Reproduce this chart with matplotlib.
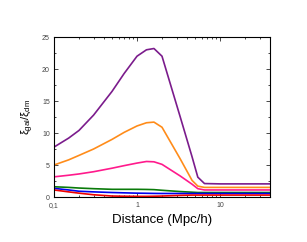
import matplotlib
matplotlib.use("Agg")
import matplotlib.pyplot as plt
from matplotlib.ticker import FixedLocator, LogLocator, NullFormatter, MultipleLocator

plt.rcParams['font.family'] = ['Liberation Sans', 'DejaVu Sans']
plt.rcParams['mathtext.fontset'] = 'custom'
plt.rcParams['mathtext.rm'] = 'Liberation Sans'
plt.rcParams['mathtext.it'] = 'Liberation Sans'

# Distance (Mpc/h) and ratio curves
dist = [0.1, 0.15, 0.2, 0.3, 0.5, 0.7, 1.0, 1.3, 1.6, 2.0, 3.3, 4.6, 5.4, 6.5, 10, 40]
purple = [7.8, 9.2, 10.4, 12.8, 16.5, 19.3, 22.0, 23.0, 23.2, 22.0, 12.6, 6.3, 3.1, 2.1, 2.05, 2.05]
orange = [5.0, 5.8, 6.5, 7.5, 9.0, 10.1, 11.1, 11.6, 11.7, 10.9, 6.0, 2.6, 1.7, 1.5, 1.5, 1.5]
pink = [3.15, 3.4, 3.6, 3.95, 4.5, 4.9, 5.3, 5.55, 5.5, 5.1, 3.3, 2.0, 1.3, 1.1, 1.1, 1.1]
green = [1.6, 1.5, 1.4, 1.3, 1.2, 1.2, 1.2, 1.18, 1.15, 1.05, 0.85, 0.75, 0.7, 0.7, 0.7, 0.7]
blue = [1.35, 1.1, 0.9, 0.8, 0.7, 0.65, 0.6, 0.58, 0.56, 0.55, 0.55, 0.55, 0.55, 0.55, 0.55, 0.55]
red = [1.1, 0.8, 0.6, 0.35, 0.15, 0.12, 0.1, 0.1, 0.12, 0.15, 0.25, 0.3, 0.3, 0.3, 0.3, 0.3]

fig = plt.figure(figsize=(3.07, 2.42), dpi=100)
ax = fig.add_axes([54 / 307, 1 - 197 / 242, 216 / 307, 160 / 242])

ax.plot(dist, purple, color="#7B1C8C", lw=1.2)
ax.plot(dist, orange, color="#FF8C1A", lw=1.2)
ax.plot(dist, pink, color="#FF1A8C", lw=1.2)
ax.plot(dist, green, color="#0A7A0A", lw=1.2)
ax.plot(dist, blue, color="#0000EE", lw=1.2)
ax.plot(dist, red, color="#EE0000", lw=1.2)

ax.set_xscale("log")
ax.set_xlim(0.1, 40)
ax.set_ylim(0, 25)
ax.xaxis.set_major_locator(FixedLocator([0.1, 1, 10]))
ax.set_xticklabels(["0,1", "1", "10"])
ax.xaxis.set_minor_locator(LogLocator(base=10, subs=range(2, 10)))
ax.xaxis.set_minor_formatter(NullFormatter())
ax.yaxis.set_major_locator(MultipleLocator(5))
ax.yaxis.set_minor_locator(MultipleLocator(2.5))
ax.tick_params(which="both", direction="in", top=True, right=True, labelsize=5,
               labelcolor="#444444", width=0.5)
ax.tick_params(which="major", length=3)
ax.tick_params(which="minor", length=1.5)
ax.tick_params(axis="x", which="major", pad=3.5)
ax.tick_params(axis="y", which="major", pad=3)
for s in ax.spines.values():
    s.set_linewidth(0.8)

ax.set_xlabel("Distance (Mpc/h)", fontsize=9.5, labelpad=4)
ax.set_ylabel(r"$\xi_{\rm gal}/\xi_{\rm dm}$", fontsize=8, labelpad=4)

fig.savefig("out.png", dpi=100)
